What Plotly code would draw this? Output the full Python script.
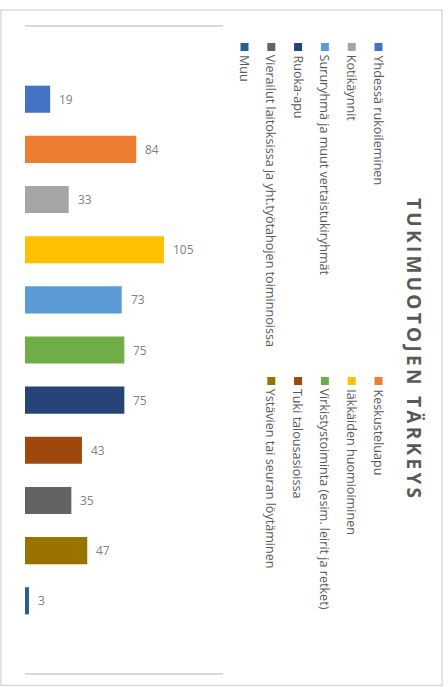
import plotly.graph_objects as go

title_text = "TUKIMUOTOJEN TÄRKEYS"
categories = [
    "Yhdessä rukoileminen",
    "Keskusteluapu",
    "Kotikäynnit",
    "Iäkkäiden huomioiminen",
    "Sururyhmä ja muut vertaistukiryhmät",
    "Virkistystoiminta (esim. leirit ja retket)",
    "Ruoka-apu",
    "Tuki talousasioissa",
    "Vierailut laitoksissa ja yht.työtahojen toiminnoissa",
    "Ystävien tai seuran löytäminen",
    "Muu",
]
values = [19, 84, 33, 105, 73, 75, 75, 43, 35, 47, 3]
colors = ["#4472C4", "#ED7D31", "#A5A5A5", "#FFC000", "#5B9BD5", "#70AD47",
          "#264478", "#9E480E", "#636363", "#997300", "#255E91"]

W, H = 448, 687
ML, MR, MT, MB = 25, 225, 27, 14
PW = W - ML - MR
PH = H - MT - MB


def px_x(px):
    return (px - ML) / PW


def px_y(py):
    return (H - MB - py) / PH


FONT = "Open Sans, Segoe UI, Arial, sans-serif"
TXT = "#595959"

fig = go.Figure()
fig.add_trace(go.Bar(
    x=values, y=categories, orientation="h",
    marker=dict(color=colors, line=dict(width=0)),
    width=0.54, showlegend=False, hoverinfo="x+y",
))

annotations = []
# value labels
for c, v in zip(categories, values):
    annotations.append(dict(
        x=v, y=c, xref="x", yref="y", text=str(v), showarrow=False,
        xanchor="left", yanchor="middle", xshift=7,
        font=dict(family=FONT, size=12, color="#808080"),
    ))

# title (rotated)
annotations.append(dict(
    x=px_x(414), y=px_y(349), xref="paper", yref="paper",
    text='<span style="letter-spacing:3.3px">' + title_text + "</span>",
    textangle=90, showarrow=False, xanchor="center", yanchor="middle",
    font=dict(family=FONT, size=19, color=TXT, weight="bold"),
))

shapes = []
# legend (rotated, two groups)
col_x0 = 378.5
col_step = 26.8
group_top = [43, 377]
for i, (c, col) in enumerate(zip(categories, colors)):
    row = i // 2
    grp = i % 2
    cx = col_x0 - col_step * row
    top = group_top[grp]
    shapes.append(dict(
        type="rect", xref="paper", yref="paper",
        x0=px_x(cx - 4), x1=px_x(cx + 4),
        y0=px_y(top), y1=px_y(top + 8),
        fillcolor=col, line=dict(width=0),
    ))
    annotations.append(dict(
        x=px_x(cx), y=px_y(top + 10), xref="paper", yref="paper",
        text=c, textangle=90, showarrow=False,
        xanchor="center", yanchor="top",
        font=dict(family=FONT, size=12.6, color=TXT),
    ))

# outer border
shapes.append(dict(
    type="rect", xref="paper", yref="paper",
    x0=px_x(1), x1=px_x(442), y0=px_y(685.5), y1=px_y(10),
    line=dict(color="#D9D9D9", width=1.5), fillcolor="rgba(0,0,0,0)",
    layer="below",
))

fig.update_layout(
    width=W, height=H,
    margin=dict(l=ML, r=MR, t=MT, b=MB, pad=0),
    paper_bgcolor="white", plot_bgcolor="white",
    xaxis=dict(range=[0, 149.5], showgrid=False, zeroline=False,
               showticklabels=False, ticks="", showline=True, mirror=True,
               linecolor="#D9D9D9", linewidth=2),
    yaxis=dict(range=[11.44, -1.44], showgrid=False, zeroline=False,
               showticklabels=False, ticks="", showline=False),
    annotations=annotations,
    shapes=shapes,
    font=dict(family=FONT, color=TXT),
)

fig.write_html(
    "out.html",
    config={"displayModeBar": False},
    post_script="document.body.style.margin='0';document.body.style.overflow='hidden';",
)
